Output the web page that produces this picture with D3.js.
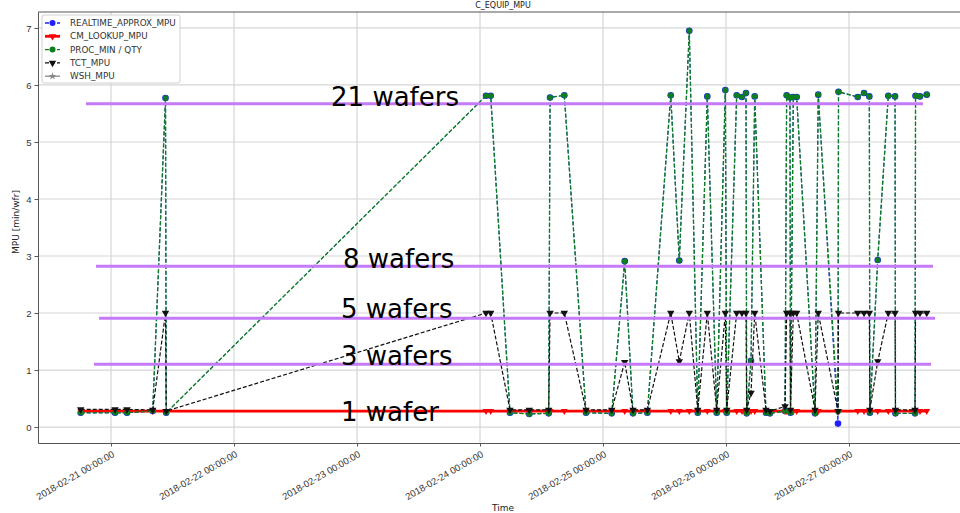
<!DOCTYPE html>
<html>
<head>
<meta charset="utf-8">
<script src="https://cdn.jsdelivr.net/npm/d3@7"></script>
<style>
  body { margin: 0; background: #fff; overflow: hidden; }
  svg { display: block; font-family: "DejaVu Sans", sans-serif; }
</style>
</head>
<body>
<div id="chart"></div>
<script>
// sample times (one per lot)
const times = [
  "2018-02-20 18:05", "2018-02-21 00:47", "2018-02-21 03:07", "2018-02-21 08:08", "2018-02-21 10:38", "2018-02-21 10:46",
  "2018-02-24 01:10", "2018-02-24 02:05", "2018-02-24 05:51", "2018-02-24 09:37", "2018-02-24 13:24", "2018-02-24 13:40",
  "2018-02-24 16:27", "2018-02-24 20:41", "2018-02-25 01:42", "2018-02-25 04:14", "2018-02-25 05:51", "2018-02-25 08:39",
  "2018-02-25 13:13", "2018-02-25 14:53", "2018-02-25 16:50", "2018-02-25 18:29", "2018-02-25 20:21", "2018-02-25 22:11",
  "2018-02-25 23:52", "2018-02-26 00:08", "2018-02-26 02:05", "2018-02-26 03:07", "2018-02-26 03:54", "2018-02-26 04:02",
  "2018-02-26 04:53", "2018-02-26 05:36", "2018-02-26 07:48", "2018-02-26 08:35", "2018-02-26 11:31", "2018-02-26 11:50",
  "2018-02-26 12:29", "2018-02-26 12:35", "2018-02-26 13:08", "2018-02-26 13:47", "2018-02-26 17:22", "2018-02-26 18:00",
  "2018-02-26 21:51", "2018-02-26 21:57", "2018-02-27 01:42", "2018-02-27 02:56", "2018-02-27 03:58", "2018-02-27 04:04",
  "2018-02-27 05:36", "2018-02-27 07:40", "2018-02-27 08:59", "2018-02-27 09:04", "2018-02-27 12:53", "2018-02-27 12:59",
  "2018-02-27 13:51", "2018-02-27 15:10"
];

const procMin = [
  0.25, 0.25, 0.25, 0.28, 5.77, 0.25,
  5.81, 5.81, 0.25, 0.23, 0.24, 5.78,
  5.82, 0.25, 0.24, 2.91, 0.24, 0.25,
  5.82, 2.92, 6.95, 0.25, 5.80, 0.25,
  5.91, 0.25, 5.82, 5.79, 5.86, 0.24,
  1.16, 5.80, 0.25, 0.24, 0.28, 5.82,
  5.78, 0.25, 5.79, 5.79, 0.24, 5.83,
  0.27, 5.88, 5.79, 5.86, 5.80, 0.25,
  2.93, 5.81, 5.80, 0.24, 0.24, 5.81,
  5.80, 5.83
];

const realtime = [
  0.25, 0.25, 0.25, 0.28, 5.77, 0.25,
  5.81, 5.81, 0.25, 0.23, 0.24, 5.78,
  5.82, 0.25, 0.24, 2.91, 0.24, 0.25,
  5.82, 2.92, 6.95, 0.25, 5.80, 0.25,
  5.91, 0.25, 5.82, 5.79, 5.86, 0.24,
  1.16, 5.80, 0.25, 0.24, 0.28, 5.82,
  5.78, 0.25, 5.79, 5.79, 0.24, 5.83,
  0.06, 5.88, 5.79, 5.86, 5.80, 0.25,
  2.93, 5.81, 5.80, 0.24, 0.24, 5.81,
  5.80, 5.83
];

const tctMpu = [
  0.31, 0.31, 0.31, 0.30, 2.00, 0.28,
  2.00, 2.00, 0.30, 0.30, 0.30, 2.00,
  2.00, 0.30, 0.30, 1.14, 0.30, 0.30,
  2.00, 1.15, 2.00, 0.30, 2.00, 0.30,
  2.00, 0.30, 2.00, 2.00, 2.00, 0.30,
  0.60, 2.00, 0.30, 0.28, 0.36, 2.00,
  2.00, 0.30, 2.00, 2.00, 0.30, 2.00,
  0.28, 2.00, 2.00, 2.00, 2.00, 0.30,
  1.15, 2.00, 2.00, 0.30, 0.30, 2.00,
  2.00, 2.00
];

const cmLookup = [
  0.28, 0.28, 0.28, 0.28, 0.28, 0.28,
  0.28, 0.28, 0.28, 0.28, 0.28, 0.28,
  0.28, 0.28, 0.28, 0.28, 0.28, 0.28,
  0.28, 0.28, 0.28, 0.28, 0.28, 0.28,
  0.28, 0.28, 0.28, 0.28, 0.28, 0.28,
  0.28, 0.28, 0.28, 0.28, 0.28, 0.28,
  0.28, 0.28, 0.28, 0.28, 0.28, 0.28,
  0.28, 0.28, 0.28, 0.28, 0.28, 0.28,
  0.28, 0.28, 0.28, 0.28, 0.28, 0.28,
  0.28, 0.28
];

// WSH_MPU has no values in this window
const wshMpu = [];

// wafer count reference lines
const waferLevels = [5.67, 2.82, 1.91, 1.10];
const waferStart = ["2018-02-20 19:07", "2018-02-20 21:04", "2018-02-20 21:40", "2018-02-20 20:41"];
const waferEnd = ["2018-02-27 14:26", "2018-02-27 16:23", "2018-02-27 16:47", "2018-02-27 16:00"];

const labelTexts = ["21 wafers", "8 wafers", "5 wafers", "3 wafers", "1 wafer"];
const labelTimes = ["2018-02-22 18:56", "2018-02-22 21:16", "2018-02-22 20:53", "2018-02-22 20:53", "2018-02-22 20:53"];
const labelValues = [5.63, 2.79, 1.91, 1.09, 0.105];

const yTicks = [0, 1, 2, 3, 4, 5, 6, 7];
const xTicks = ["2018-02-21", "2018-02-22", "2018-02-23", "2018-02-24", "2018-02-25", "2018-02-26", "2018-02-27"];

const width = 960, height = 513;
const parse = d3.timeParse("%Y-%m-%d %H:%M");
const parseDay = d3.timeParse("%Y-%m-%d");
const fmt = d3.timeFormat("%Y-%m-%d %H:%M:%S");

const T = times.map(parse);

const x = d3.scaleTime()
  .domain([parse("2018-02-20 09:45"), parse("2018-02-27 22:38")])
  .range([38, 965]);
const y = d3.scaleLinear()
  .domain([-0.28, 7.28])
  .range([443, 12]);

const svg = d3.select("#chart").append("svg")
  .attr("width", width)
  .attr("height", height);

svg.append("defs").append("clipPath").attr("id", "clip")
  .append("rect").attr("x", 38).attr("y", 12).attr("width", 930).attr("height", 431);

// title (sits right at the top edge)
svg.append("text")
  .attr("x", 503).attr("y", 8)
  .attr("text-anchor", "middle")
  .attr("font-size", 8).attr("fill", "#222")
  .text("C_EQUIP_MPU");

// grid
const grid = svg.append("g");
grid.selectAll("line.h").data(yTicks).join("line")
  .attr("x1", 38).attr("x2", 960)
  .attr("y1", d => y(d)).attr("y2", d => y(d))
  .attr("stroke", "#d6d6d6").attr("stroke-width", 1.2);
grid.selectAll("line.v").data(xTicks.map(parseDay)).join("line")
  .attr("x1", d => x(d)).attr("x2", d => x(d))
  .attr("y1", 12).attr("y2", 443)
  .attr("stroke", "#d6d6d6").attr("stroke-width", 1.2);

// axes
const xAxis = svg.append("g")
  .attr("transform", "translate(0,443)")
  .call(d3.axisBottom(x).tickValues(xTicks.map(parseDay)).tickFormat(fmt).tickSize(3.5).tickSizeOuter(0));
xAxis.select(".domain").attr("stroke", "#555");
xAxis.selectAll(".tick line").attr("stroke", "#555");
xAxis.selectAll(".tick text")
  .attr("font-size", 9.5).attr("fill", "#333")
  .attr("text-anchor", "end")
  .attr("transform", "translate(-1,5) rotate(-30)")
  .attr("dy", "0.3em");

const yAxis = svg.append("g")
  .attr("transform", "translate(38,0)")
  .call(d3.axisLeft(y).tickValues(yTicks).tickFormat(d3.format("d")).tickSize(3.5).tickSizeOuter(0));
yAxis.select(".domain").attr("stroke", "#555");
yAxis.selectAll(".tick line").attr("stroke", "#555");
yAxis.selectAll(".tick text").attr("font-size", 9.5).attr("fill", "#333");

svg.append("line")
  .attr("x1", 38).attr("x2", 960).attr("y1", 12).attr("y2", 12)
  .attr("stroke", "#555");

svg.append("text")
  .attr("transform", "translate(19,222) rotate(-90)")
  .attr("text-anchor", "middle")
  .attr("font-size", 9).attr("fill", "#222")
  .text("MPU [min/wfr]");

svg.append("text")
  .attr("x", 503).attr("y", 511)
  .attr("text-anchor", "middle")
  .attr("font-size", 9).attr("fill", "#222")
  .text("Time");

// series
const plot = svg.append("g").attr("clip-path", "url(#clip)");
const tri = d3.symbol().type(d3.symbolTriangle);

function drawSeries(vals, color, dash, lw, marker, msize) {
  const pts = vals.map((v, i) => [T[i], v]).filter(d => d[1] != null);
  const line = d3.line().x(d => x(d[0])).y(d => y(d[1]));
  plot.append("path")
    .datum(pts)
    .attr("d", line)
    .attr("fill", "none")
    .attr("stroke", color)
    .attr("stroke-width", lw)
    .attr("stroke-dasharray", dash);
  const g = plot.append("g");
  if (marker === "circle") {
    g.selectAll("circle").data(pts).join("circle")
      .attr("cx", d => x(d[0])).attr("cy", d => y(d[1]))
      .attr("r", msize).attr("fill", color);
  } else {
    g.selectAll("path").data(pts).join("path")
      .attr("d", tri.size(msize))
      .attr("transform", d => `translate(${x(d[0])},${y(d[1])}) rotate(180)`)
      .attr("fill", color);
  }
}

drawSeries(realtime, "#2020ff", "4,2", 1.0, "circle", 3.3);
drawSeries(cmLookup, "#ff0000", null, 2.8, "tri", 20);
drawSeries(procMin, "#0d7f1f", "4,2", 1.4, "circle", 2.8);
drawSeries(tctMpu, "#111", "4,2", 1.2, "tri", 24);
drawSeries(wshMpu, "#888", null, 1, "tri", 20);

// wafer reference lines
svg.append("g").selectAll("line").data(waferLevels).join("line")
  .attr("x1", (d, i) => x(parse(waferStart[i])))
  .attr("x2", (d, i) => x(parse(waferEnd[i])))
  .attr("y1", d => y(d)).attr("y2", d => y(d))
  .attr("stroke", "#c57af7").attr("stroke-width", 3);

svg.append("g").selectAll("text").data(labelTexts).join("text")
  .attr("x", (d, i) => x(parse(labelTimes[i])))
  .attr("y", (d, i) => y(labelValues[i]))
  .attr("font-size", 26).attr("fill", "#000")
  .text(d => d);

// legend
const legendNames = ["REALTIME_APPROX_MPU", "CM_LOOKUP_MPU", "PROC_MIN / QTY", "TCT_MPU", "WSH_MPU"];
const legendColors = ["#2020ff", "#ff0000", "#0d7f1f", "#111", "#888"];
const legendDash = ["4,2", null, "4,2", "4,2", null];
const legendMarker = ["circle", "tri", "circle", "tri", "star"];

const lg = svg.append("g");
lg.append("rect")
  .attr("x", 42).attr("y", 15).attr("width", 138).attr("height", 68)
  .attr("rx", 2).attr("fill", "#fff").attr("fill-opacity", 0.85)
  .attr("stroke", "#d0d0d0");
const item = lg.selectAll("g").data(legendNames).join("g")
  .attr("transform", (d, i) => `translate(0,${23 + i * 13.3})`);
item.append("line")
  .attr("x1", 45).attr("x2", 60)
  .attr("stroke", (d, i) => legendColors[i])
  .attr("stroke-width", (d, i) => i === 1 ? 2.8 : 1.3)
  .attr("stroke-dasharray", (d, i) => legendDash[i]);
item.each(function(d, i) {
  const g = d3.select(this);
  if (legendMarker[i] === "circle") {
    g.append("circle").attr("cx", 52.5).attr("cy", 0).attr("r", 3).attr("fill", legendColors[i]);
  } else if (legendMarker[i] === "tri") {
    g.append("path").attr("d", tri.size(24)).attr("transform", "translate(52.5,0) rotate(180)").attr("fill", legendColors[i]);
  } else {
    g.append("path").attr("d", d3.symbol().type(d3.symbolStar).size(18)()).attr("transform", "translate(52.5,0)").attr("fill", legendColors[i]);
  }
});
item.append("text")
  .attr("x", 70).attr("dy", "0.35em")
  .attr("font-size", 8.8).attr("fill", "#333")
  .text(d => d);
</script>
</body>
</html>
